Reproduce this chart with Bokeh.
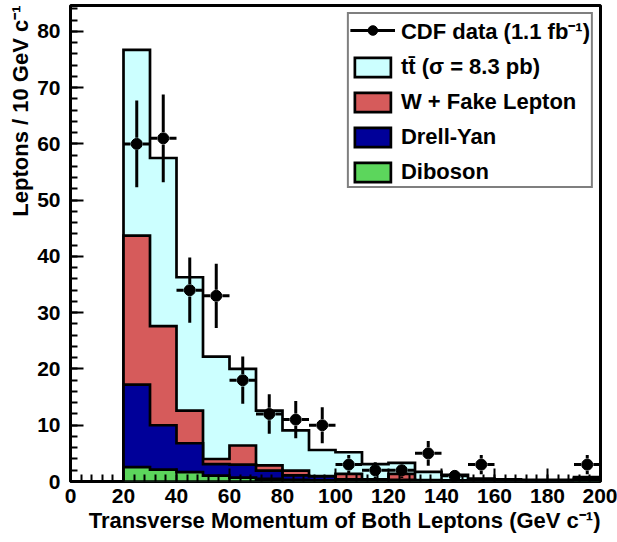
from bokeh.plotting import figure
from bokeh.models import Range1d, Legend, LegendItem, Title, FixedTicker
from bokeh.embed import file_html
from bokeh.resources import INLINE

# ---------------- data ----------------
bin_edges = [20, 30, 40, 50, 60, 70, 80, 90, 100, 110, 120, 130, 140, 150, 160, 170, 180, 190, 200]

diboson = [2.55, 2.1, 1.65, 1.05, 0.7, 0.45, 0.3, 0.2, 0.15, 0.1, 0.1, 0.08, 0.05, 0.05, 0.03, 0.03, 0.03, 0.1]
drell_yan = [14.65, 7.9, 5.15, 2.05, 2.3, 1.5, 0.8, 0.7, 0.25, 0.2, 0.2, 0.12, 0.1, 0.05, 0.05, 0.05, 0.05, 0.35]
w_fake = [26.5, 17.6, 5.8, 0.9, 3.4, 0.9, 0.85, 0.05, 0.95, 0.1, 1.05, 0.05, 0.05, 0.05, 0.04, 0.02, 0.02, 0.05]
ttbar = [33.0, 29.9, 23.7, 18.2, 13.6, 9.75, 7.15, 4.65, 3.85, 2.7, 1.95, 1.45, 1.0, 0.35, 0.28, 0.2, 0.2, 0.3]

data_counts = [60, 61, 34, 33, 18, 12, 11, 10, 3, 2, 2, 5, 1, 3, 0, 0, 0, 3]
data_errors = [7.7, 7.8, 5.8, 5.7, 4.2, 3.5, 3.3, 3.2, 1.7, 1.4, 1.4, 2.2, 1.0, 1.7, 0, 0, 0, 1.7]

x_ticks = [0, 20, 40, 60, 80, 100, 120, 140, 160, 180, 200]
y_ticks = [0, 10, 20, 30, 40, 50, 60, 70, 80]

legend_labels = ["CDF data (1.1 fb\u207b\u00b9)", "tt\u0304 (\u03c3 = 8.3 pb)", "W + Fake Lepton", "Drell-Yan", "Diboson"]

# ---------------- styles ----------------
FONT = "Liberation Sans"
C_TT = "#CCFFFF"
C_WF = "#D65B5B"
C_DY = "#000099"
C_DB = "#5CD65C"
OUT_W = 2.7

def cumulative(*layers):
    return [sum(v) for v in zip(*layers)]

cum_db = cumulative(diboson)
cum_dy = cumulative(diboson, drell_yan)
cum_wf = cumulative(diboson, drell_yan, w_fake)
cum_tt = cumulative(diboson, drell_yan, w_fake, ttbar)

def step_polygon(edges, heights):
    xs = [edges[0]]
    ys = [0]
    for i, h in enumerate(heights):
        xs += [edges[i], edges[i + 1]]
        ys += [h, h]
    xs.append(edges[-1])
    ys.append(0)
    return xs, ys

p = figure(width=617, height=542, x_range=Range1d(0, 200), y_range=Range1d(0, 84.6),
           output_backend="svg", toolbar_location=None,
           min_border_left=70, min_border_right=17, min_border_top=5, min_border_bottom=61)
p.xgrid.visible = False
p.ygrid.visible = False
p.background_fill_color = "white"
p.border_fill_color = "white"
p.outline_line_color = "black"
p.outline_line_width = 3

renderers = {}
for name, cum, col in [("tt", cum_tt, C_TT), ("wf", cum_wf, C_WF), ("dy", cum_dy, C_DY), ("db", cum_db, C_DB)]:
    xs, ys = step_polygon(bin_edges, cum)
    renderers[name] = p.patch(xs, ys, fill_color=col, line_color="black", line_width=OUT_W,
                              line_join="miter")

# data points with ROOT-like gapped error bars
GX = 2.3
GY = 1.1
seg_x0, seg_y0, seg_x1, seg_y1 = [], [], [], []
px, py = [], []
for i, (n, e) in enumerate(zip(data_counts, data_errors)):
    if n <= 0:
        continue
    lo, hi = bin_edges[i], bin_edges[i + 1]
    c = 0.5 * (lo + hi)
    px.append(c)
    py.append(n)
    seg_x0 += [lo, c + GX]
    seg_y0 += [n, n]
    seg_x1 += [c - GX, hi]
    seg_y1 += [n, n]
    if e > GY:
        seg_x0 += [c, c]
        seg_y0 += [n + GY, n - GY]
        seg_x1 += [c, c]
        seg_y1 += [n + e, max(n - e, 0)]
r_err = p.segment(seg_x0, seg_y0, seg_x1, seg_y1, line_color="black", line_width=3)
r_pts = p.scatter(px, py, size=11, color="black")

# axes
p.xaxis.ticker = FixedTicker(ticks=x_ticks, minor_ticks=list(range(0, 201, 4)))
p.yaxis.ticker = FixedTicker(ticks=y_ticks, minor_ticks=list(range(0, 85, 2)))
for ax in (p.xaxis, p.yaxis):
    ax.axis_line_color = None
    ax.major_tick_in = 13
    ax.major_tick_out = 0
    ax.minor_tick_in = 7
    ax.minor_tick_out = 0
    ax.major_tick_line_width = 2
    ax.minor_tick_line_width = 2
    ax.major_tick_line_color = "black"
    ax.minor_tick_line_color = "black"
    ax.major_label_text_font = FONT
    ax.major_label_text_font_style = "bold"
    ax.major_label_text_font_size = "21px"
    ax.major_label_text_color = "black"
p.xaxis.major_label_standoff = 7
p.yaxis.major_label_standoff = 10

xt = Title(text="Transverse Momentum of Both Leptons (GeV c\u207b\u00b9)", align="right",
           text_font=FONT, text_font_style="bold", text_font_size="22px", text_color="black",
           standoff=0, offset=0)
p.add_layout(xt, "below")
yt = Title(text="Leptons / 10 GeV c\u207b\u00b9", align="right",
           text_font=FONT, text_font_style="bold", text_font_size="22px", text_color="black",
           standoff=4, offset=0)
p.add_layout(yt, "left")

legend = Legend(items=[
    LegendItem(label=legend_labels[0], renderers=[r_err, r_pts]),
    LegendItem(label=legend_labels[1], renderers=[renderers["tt"]]),
    LegendItem(label=legend_labels[2], renderers=[renderers["wf"]]),
    LegendItem(label=legend_labels[3], renderers=[renderers["dy"]]),
    LegendItem(label=legend_labels[4], renderers=[renderers["db"]]),
], location="top_right", margin=7, padding=1, spacing=9, glyph_width=45, glyph_height=24,
   label_standoff=6, label_text_font=FONT, label_text_font_style="bold",
   label_text_font_size="22px", label_text_color="black",
   border_line_color="black", border_line_width=2, background_fill_color="white",
   background_fill_alpha=1.0)
p.add_layout(legend)

open("out.html", "w").write(file_html(p, INLINE))
